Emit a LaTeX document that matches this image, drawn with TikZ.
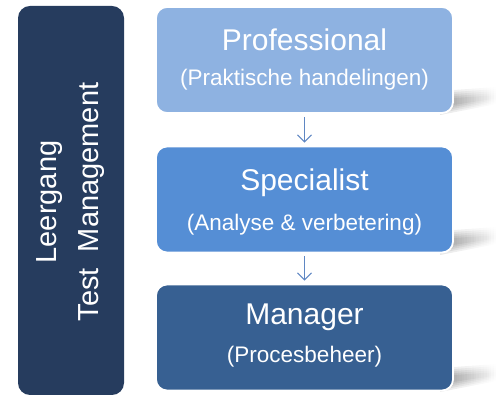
\documentclass[tikz,border=0pt]{standalone}
\usepackage{fontspec}
\setmainfont{Liberation Sans}
\usetikzlibrary{arrows.meta,fadings}
\definecolor{navy}{RGB}{38,60,94}
\definecolor{lightblue}{RGB}{142,178,225}
\definecolor{midblue}{RGB}{85,142,213}
\definecolor{darkblue}{RGB}{55,96,146}
\definecolor{arrowcol}{RGB}{95,135,195}
\begin{document}
\begin{tikzpicture}[x=1pt,y=1pt,
  levelbox/.style={draw=white,line width=1.8pt,rounded corners=11pt,minimum width=297pt,minimum height=106pt,inner sep=0pt},
  titletext/.style={text=white,font=\fontsize{30}{35}\selectfont},
  subtext/.style={text=white,font=\fontsize{22.5}{27}\selectfont},
  shadowpart/.style={fill=black,opacity=0.09,path fading=east},
  flow/.style={draw=arrowcol,line width=1.1pt,-{Straight Barb[length=7pt,width=14pt]},shorten <=3pt,shorten >=3pt}]
\useasboundingbox (0,0) rectangle (497,395);
% soft shadows
\foreach \yb in {282,142,5}{
  \foreach \d in {0,2,4,6,8}{
    \fill[shadowpart]
      (440,\yb+22-\d) -- (497,\yb+26-\d) -- (497,\yb+9+\d*0.7) -- (440,\yb-2+\d) -- cycle;
  }
}
% left bar
\fill[navy,rounded corners=12pt] (18,0) rectangle (124,389);
\node[rotate=90,text=white,align=center,font=\fontsize{29}{42}\selectfont] (bar) at (71,193) {Leergang\\Test\ \ Management};
% boxes
\node[levelbox,fill=lightblue] (prof) at (304.5,335) {};
\node[levelbox,fill=midblue] (spec) at (304.5,195.5) {};
\node[levelbox,fill=darkblue] (man) at (304.5,57.5) {};
% texts
\node[titletext] (proft) at (304.5,355) {Professional};
\node[subtext] (profs) at (304.5,315) {(Praktische handelingen)};
\node[titletext] (spect) at (304.5,212) {Specialist};
\node[subtext] (specs) at (304.5,170) {(Analyse \& verbetering)};
\node[titletext] (mant) at (304.5,78) {Manager};
\node[subtext] (mans) at (304.5,38) {(Procesbeheer)};
% arrows
\draw[flow] (prof.south) -- (spec.north);
\draw[flow] (spec.south) -- (man.north);
\end{tikzpicture}
\end{document}
